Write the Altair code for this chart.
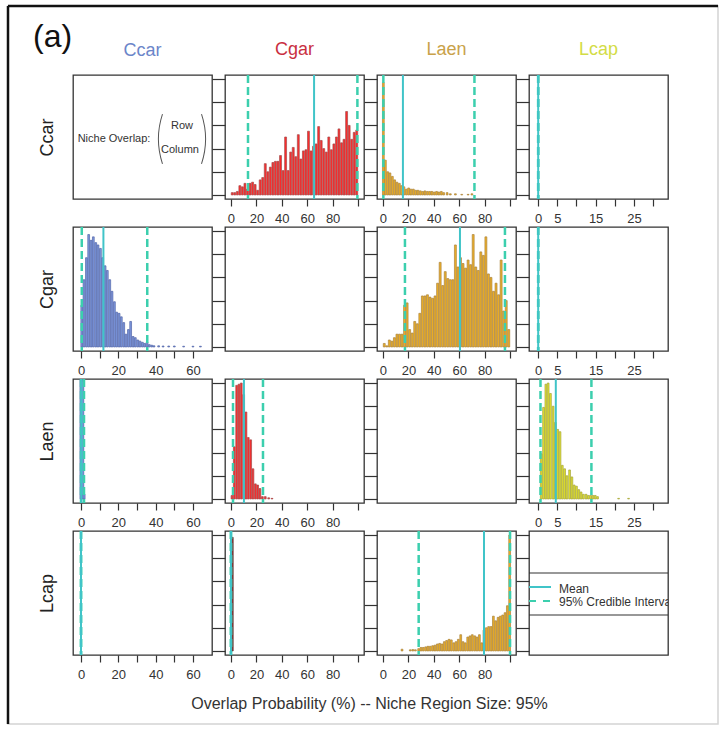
import altair as alt
import pandas as pd

FONT = "Liberation Sans"

species = ["Ccar", "Cgar", "Laen", "Lcap"]
title_colors = ["#6b85c9", "#c9303f", "#c9a24a", "#d3dc46"]
bar_fill = ["#7d98de", "#ff2a2a", "#eeb025", "#e4e42c"]
bar_edge = ["#5264a8", "#a34e4e", "#a9833d", "#a4a43c"]
mean_color = "#40c4c8"
ci_color = "#3ccfae"

# x axis per column species
x_domains = [[-4.3, 70.2], [-4.7, 104.7], [-4.7, 104.7], [-2.4, 33.9]]
x_ticks = [[0, 10, 20, 30, 40, 50, 60], [0, 20, 40, 60, 80, 100],
           [0, 20, 40, 60, 80, 100], [0, 5, 10, 15, 20, 25, 30]]
x_labels = [[0, 20, 40, 60], [0, 20, 40, 60, 80], [0, 20, 40, 60, 80], [0, 5, 15, 25]]
y_ticks = [0, 0.2, 0.4, 0.6, 0.8, 1.0]
y_domain = [-0.035, 1.035]

# ---- histogram bins (bin centre, relative height) ----
ccar_cgar_x = [1, 3, 5, 7, 9, 11, 13, 15, 17, 19, 21, 23, 25, 27, 29, 31, 33, 35, 37, 39,
               41, 43, 45, 47, 49, 51, 53, 55, 57, 59, 61, 63, 65, 67, 69, 71, 73, 75, 77, 79,
               81, 83, 85, 87, 89, 91, 93, 95, 97, 99]
ccar_cgar_h = [0.02, 0.02, 0.03, 0.08, 0.07, 0.10, 0.05, 0.10, 0.11, 0.09,
               0.04, 0.13, 0.15, 0.27, 0.20, 0.24, 0.28, 0.29, 0.29, 0.34,
               0.21, 0.50, 0.21, 0.37, 0.41, 0.33, 0.52, 0.31, 0.38, 0.39,
               0.55, 0.38, 0.42, 0.44, 0.59, 0.47, 0.40, 0.37, 0.50, 0.39,
               0.44, 0.50, 0.57, 0.45, 0.48, 0.72, 0.60, 0.48, 0.54, 0.56]

ccar_laen_x = [0.3, 1.9, 3.7, 5.5, 7.4, 9.2, 11.0, 12.9, 14.7, 16.5, 18.4, 20.2, 22.0, 23.9,
               25.7, 27.5, 29.4, 31.2, 33.0, 34.9, 36.7, 38.5, 40.4, 42.2, 44.0, 45.9, 47.7,
               50.5, 53.0, 57.0, 62.0, 67.0, 70.0]
ccar_laen_h = [0.97, 0.30, 0.20, 0.19, 0.16, 0.13, 0.11, 0.10, 0.08, 0.07, 0.05, 0.06, 0.05,
               0.05, 0.04, 0.04, 0.035, 0.03, 0.035, 0.03, 0.03, 0.03, 0.025, 0.03, 0.025,
               0.03, 0.02, 0.02, 0.01, 0.01, 0.005, 0.005, 0.01]

cgar_ccar_x = [0.4, 1.6, 2.9, 4.1, 5.4, 6.6, 7.9, 9.1, 10.4, 11.6, 12.9, 14.1, 15.4, 16.6,
               17.9, 19.1, 20.4, 21.6, 22.9, 24.1, 25.4, 26.6, 27.9, 29.1, 30.4, 31.6, 32.9,
               34.1, 35.4, 36.6, 37.9, 39.1, 41.6, 44.0, 47.0, 50.0, 55.0, 60.0, 64.0]
cgar_ccar_h = [0.36, 0.58, 0.77, 0.97, 0.92, 0.95, 0.90, 0.88, 0.85, 0.77, 0.70, 0.66, 0.58,
               0.48, 0.39, 0.30, 0.29, 0.26, 0.21, 0.11, 0.15, 0.22, 0.09, 0.08, 0.06, 0.05,
               0.04, 0.03, 0.04, 0.02, 0.015, 0.01, 0.01, 0.008, 0.008, 0.008, 0.006, 0.006,
               0.006]

cgar_laen_x = ccar_cgar_x
cgar_laen_h = [0.03, 0.01, 0.06, 0.05, 0.08, 0.11, 0.11, 0.11, 0.36, 0.38,
               0.15, 0.12, 0.22, 0.20, 0.29, 0.44, 0.44, 0.45, 0.43, 0.42,
               0.44, 0.55, 0.73, 0.53, 0.65, 0.59, 0.58, 0.58, 0.88, 0.69,
               0.77, 0.72, 0.68, 0.75, 0.71, 0.97, 0.69, 0.66, 0.82, 0.79,
               0.95, 0.63, 0.60, 0.48, 0.55, 0.45, 0.75, 0.31, 0.40, 0.15]

laen_ccar_x = [0.0, 0.9, 1.6]
laen_ccar_h = [1.03, 1.02, 0.04]

laen_cgar_x = [0.8, 2.6, 4.5, 6.3, 8.1, 10.0, 11.8, 13.6, 15.5, 17.3, 19.2, 21.0, 22.8,
               24.7, 27.0, 29.7, 32.3]
laen_cgar_h = [0.03, 0.45, 0.98, 0.99, 1.00, 0.90, 0.75, 0.53, 0.51, 0.26, 0.13, 0.12, 0.09,
               0.02, 0.02, 0.01, 0.005]

laen_lcap_x = [0.8, 1.4, 2.0, 2.6, 3.2, 3.9, 4.5, 5.1, 5.7, 6.3, 6.9, 7.5, 8.2, 8.8, 9.4,
               10.0, 10.6, 11.2, 11.8, 12.5, 13.1, 13.7, 14.3, 14.9, 15.5, 21.0, 23.6]
laen_lcap_h = [0.39, 0.79, 0.99, 1.00, 0.91, 0.80, 0.66, 0.60, 0.58, 0.29, 0.26, 0.20, 0.25,
               0.19, 0.12, 0.11, 0.08, 0.06, 0.04, 0.04, 0.03, 0.03, 0.03, 0.03, 0.02, 0.005,
               0.005]

lcap_cgar_x = [1.0]
lcap_cgar_h = [0.98]

lcap_laen_x = [15.0, 21.5, 23.5, 25.5, 28.1, 29.9, 31.7, 33.6, 35.4, 37.2, 39.1, 40.9, 42.8,
               44.6, 46.5, 48.3, 50.1, 52.0, 53.8, 55.7, 57.5, 59.3, 61.2, 63.0, 64.8, 66.7,
               68.5, 70.3, 72.2, 74.0, 75.9, 77.7, 79.5, 81.4, 83.2, 85.1, 86.9, 88.7, 90.6,
               92.4, 94.2, 96.1, 97.9, 99.7]
lcap_laen_h = [0.015, 0.01, 0.012, 0.01, 0.02, 0.03, 0.03, 0.035, 0.04, 0.04, 0.045, 0.05,
               0.06, 0.065, 0.06, 0.08, 0.09, 0.10, 0.095, 0.07, 0.08, 0.10, 0.14, 0.08, 0.07,
               0.12, 0.13, 0.14, 0.13, 0.12, 0.14, 0.07, 0.18, 0.20, 0.21, 0.21, 0.30, 0.26,
               0.29, 0.30, 0.31, 0.33, 0.39, 1.00]

hist_data = {
    (0, 1): (ccar_cgar_x, ccar_cgar_h, 2.0),
    (0, 2): (ccar_laen_x, ccar_laen_h, 1.85),
    (1, 0): (cgar_ccar_x, cgar_ccar_h, 1.25),
    (1, 2): (cgar_laen_x, cgar_laen_h, 2.0),
    (2, 0): (laen_ccar_x, laen_ccar_h, 1.5),
    (2, 1): (laen_cgar_x, laen_cgar_h, 1.85),
    (2, 3): (laen_lcap_x, laen_lcap_h, 0.6),
    (3, 1): (lcap_cgar_x, lcap_cgar_h, 2.0),
    (3, 2): (lcap_laen_x, lcap_laen_h, 1.84),
}

# ---- posterior mean and 95% credible interval per off-diagonal panel ----
panel_rows = [0, 0, 0, 1, 1, 1, 2, 2, 2, 3, 3, 3]
panel_cols = [1, 2, 3, 0, 2, 3, 0, 1, 3, 0, 1, 2]
mean_overlap = [65.4, 15.7, 0.0, 12.0, 60.6, 0.0, 0.2, 10.2, 4.6, 0.0, 0.0, 79.5]
ci_lower = [13.4, 0.3, 0.0, 0.4, 17.3, 0.0, 0.0, 1.6, 0.6, 0.0, 0.0, 28.1]
ci_upper = [99.5, 72.0, 0.0, 35.5, 96.0, 0.0, 1.6, 25.2, 13.9, 0.0, 0.0, 100.0]

legend_labels = ["Mean", "95% Credible Interval"]
caption = "Overlap Probability (%) -- Niche Region Size: 95%"

PW, PH = 139, 124
one = pd.DataFrame({"k": [0]})


def panel(r, c):
    if r == c:
        xaxis = None
    else:
        xaxis = alt.Axis(values=x_ticks[c], tickSize=7, labelPadding=6, labelFontSize=13,
                         labelOverlap=False, labelFlush=False, domain=False, grid=False,
                         title=None, tickColor="#333", tickWidth=1.2, labelColor="#333",
                         labelFont=FONT,
                         labelExpr="indexof(%s, datum.value) >= 0 ? datum.label : ''"
                                   % str(x_labels[c]))
    if c == 0:
        yaxis = alt.Axis(ticks=False, labels=False, domain=False, grid=False,
                         title=species[r], titleFontSize=18, titleFontWeight="normal",
                         titleFont=FONT, titleColor="#222", titlePadding=17)
    else:
        yaxis = alt.Axis(values=y_ticks, tickSize=13, labels=False, domain=False, grid=False,
                         title=None, tickColor="#333", tickWidth=1.2)
    xs = alt.Scale(domain=x_domains[c], nice=False, zero=False)
    ys = alt.Scale(domain=y_domain, nice=False, zero=False)

    def X(f):
        return alt.X(f, type="quantitative", scale=xs, axis=xaxis)

    def Y(f):
        return alt.Y(f, type="quantitative", scale=ys, axis=yaxis)

    layers = [alt.Chart(pd.DataFrame({"bx": [0.0], "by": [0.0]})).mark_point(opacity=0)
              .encode(x=X("bx"), y=Y("by"))]

    if (r, c) in hist_data:
        hx, hh, w = hist_data[(r, c)]
        df = pd.DataFrame({"x": hx, "h": hh})
        fill, edge = bar_fill[c], bar_edge[c]
        if (r, c) == (3, 1):
            fill, edge = "#8a3b3b", "#5a3030"
        layers.append(
            alt.Chart(df).transform_calculate(
                x1="datum.x - %f" % (w * 0.38), x2="datum.x + %f" % (w * 0.38), y0="0"
            ).mark_bar(fill=fill, stroke=edge, strokeWidth=0.7)
            .encode(x=X("x1"), x2="x2", y=Y("h"), y2="y0:Q")
        )

    for i in range(len(panel_rows)):
        if panel_rows[i] == r and panel_cols[i] == c:
            ci_df = pd.DataFrame({"ci": [ci_lower[i], ci_upper[i]]})
            layers.append(alt.Chart(ci_df).mark_rule(color=ci_color, strokeWidth=2.5,
                                                     strokeDash=[8, 4])
                          .encode(x=X("ci")))
            m_df = pd.DataFrame({"m": [mean_overlap[i]]})
            layers.append(alt.Chart(m_df).mark_rule(color=mean_color, strokeWidth=2)
                          .encode(x=X("m")))

    if r == 0 and c == 0:
        # niche overlap key
        txt = dict(font=FONT, fontSize=11, color="#333", baseline="middle", align="center")
        layers.append(alt.Chart(one).mark_text(text="Niche Overlap:", **txt)
                      .encode(x=alt.value(41), y=alt.value(64)))
        layers.append(alt.Chart(one).mark_text(text="Row", **txt)
                      .encode(x=alt.value(109), y=alt.value(50.5)))
        layers.append(alt.Chart(one).mark_text(text="Column", **txt)
                      .encode(x=alt.value(107), y=alt.value(74.5)))
        layers.append(alt.Chart(one).mark_arc(theta=4.395, theta2=5.030, radius=80,
                                              radius2=79, color="#555")
                      .encode(x=alt.value(165), y=alt.value(64)))
        layers.append(alt.Chart(one).mark_arc(theta=1.253, theta2=1.889, radius=80,
                                              radius2=79, color="#555")
                      .encode(x=alt.value(53), y=alt.value(64)))

    if r == 3 and c == 0:
        # caption, panel label and outer frame (positioned from this panel's origin)
        layers.append(alt.Chart(one).mark_text(text=caption, font=FONT, fontSize=16,
                                               color="#333", align="center",
                                               baseline="alphabetic")
                      .encode(x=alt.value(296.5), y=alt.value(178)))
        layers.append(alt.Chart(one).mark_text(text="(a)", font=FONT, fontSize=32,
                                               color="#111", align="left",
                                               baseline="alphabetic")
                      .encode(x=alt.value(-40), y=alt.value(-484)))
        layers.append(alt.Chart(one).mark_rect(fill=None, stroke="#d4d4d4", strokeWidth=1.5)
                      .encode(x=alt.value(-65), x2=alt.value(645),
                              y=alt.value(-525), y2=alt.value(193)))
        layers.append(alt.Chart(one).mark_rule(color="#111", strokeWidth=2.5)
                      .encode(x=alt.value(-65), y=alt.value(-525), y2=alt.value(193)))
        layers.append(alt.Chart(one).mark_rule(color="#111", strokeWidth=2.5)
                      .encode(x=alt.value(-65), x2=alt.value(645), y=alt.value(-525)))

    if r == 3 and c == 3:
        layers.append(alt.Chart(one).mark_rule(color="#333", strokeWidth=1.2)
                      .encode(x=alt.value(0), x2=alt.value(PW), y=alt.value(42)))
        layers.append(alt.Chart(one).mark_rule(color="#333", strokeWidth=1.2)
                      .encode(x=alt.value(0), x2=alt.value(PW), y=alt.value(84)))
        layers.append(alt.Chart(one).mark_rule(color=mean_color, strokeWidth=2)
                      .encode(x=alt.value(0), x2=alt.value(22), y=alt.value(56)))
        layers.append(alt.Chart(one).mark_rule(color=ci_color, strokeWidth=2,
                                               strokeDash=[7, 7])
                      .encode(x=alt.value(0), x2=alt.value(22), y=alt.value(70)))
        ltxt = dict(font=FONT, fontSize=12, color="#333", align="left", baseline="middle",
                    clip=True)
        layers.append(alt.Chart(one).mark_text(text=legend_labels[0], **ltxt)
                      .encode(x=alt.value(30), y=alt.value(58)))
        layers.append(alt.Chart(one).mark_text(text=legend_labels[1], **ltxt)
                      .encode(x=alt.value(30), y=alt.value(71)))

    props = dict(width=PW, height=PH)
    if r == 0:
        props["title"] = alt.TitleParams(species[c], color=title_colors[c], fontSize=18,
                                         fontWeight="normal", font=FONT, offset=15,
                                         anchor="middle")
    return alt.layer(*layers).properties(**props)


panels = [panel(r, c) for r in range(4) for c in range(4)]

chart = (
    alt.concat(*panels, columns=4, spacing={"row": 28, "column": 13}, bounds="flush")
    .properties(padding={"left": 6, "top": 4, "right": 0, "bottom": 0},
                background="white")
    .configure(font=FONT)
    .configure_view(stroke="#333", strokeWidth=1.3)
)

chart.save("out.html", embed_options={"renderer": "svg", "actions": False})
